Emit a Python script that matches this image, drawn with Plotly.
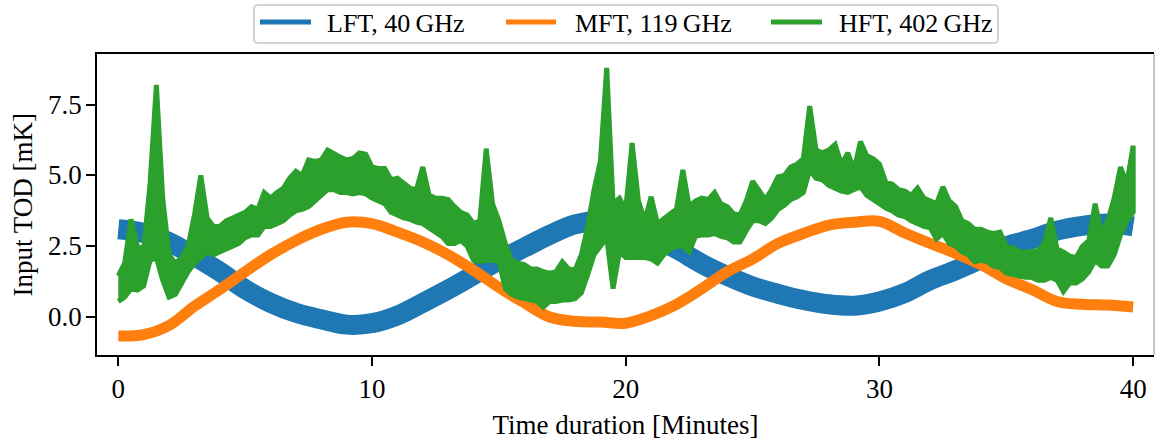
import numpy as np
import plotly.graph_objects as go

# ---------------------------------------------------------------- data
# Slowly varying channels, sampled once per minute (mK)
minutes = list(range(0, 41))
lft_mK = [3.1, 2.97, 2.65, 2.15, 1.6, 0.98, 0.5, 0.15, -0.08, -0.27,
          -0.22, 0.05, 0.5, 0.97, 1.48, 2.0, 2.45, 2.9, 3.27, 3.4,
          3.3, 2.85, 2.4, 1.88, 1.45, 1.08, 0.82, 0.6, 0.45, 0.4,
          0.55, 0.85, 1.3, 1.65, 2.05, 2.5, 2.75, 3.05, 3.22, 3.3, 3.2]
mft_mK = [-0.67, -0.62, -0.3, 0.38, 0.97, 1.6, 2.2, 2.7, 3.1, 3.35,
          3.3, 3.0, 2.65, 2.2, 1.65, 1.05, 0.5, 0.0, -0.15, -0.18,
          -0.22, 0.05, 0.45, 1.0, 1.6, 2.05, 2.6, 2.95, 3.25, 3.35,
          3.38, 2.97, 2.6, 2.25, 1.85, 1.35, 0.97, 0.55, 0.45, 0.42, 0.35]

# High-frequency channel: lower / upper envelope every 15 s (mK)
hft_minutes = np.arange(0, 40.001, 0.25)
hft_high = [1.45, 1.9, 3.45, 2.5, 2.4, 4.7, 8.2, 4.2, 2.2, 1.9,
            2.1, 2.5, 3.6, 5.0, 3.5, 3.2, 3.2, 3.4, 3.5, 3.6,
            3.7, 3.9, 3.8, 4.4, 4.2, 4.4, 4.55, 4.9, 5.15, 5.0,
            5.55, 5.5, 5.55, 5.9, 5.75, 5.65, 5.55, 5.6, 5.8, 5.75,
            5.3, 5.25, 5.25, 4.85, 4.9, 4.7, 4.55, 4.5, 5.3, 4.3,
            4.2, 4.2, 4.15, 3.9, 3.7, 3.6, 3.3, 3.4, 5.95, 4.0,
            3.4, 2.6, 2.0, 1.9, 1.85, 1.7, 1.7, 1.6, 1.55, 1.6,
            1.95, 1.7, 1.65, 2.2, 3.2, 4.5, 5.5, 8.8, 4.0, 4.2,
            3.8, 6.15, 4.1, 3.4, 4.25, 3.3, 3.5, 3.65, 3.8, 5.2,
            3.9, 4.1, 4.2, 4.15, 4.4, 4.0, 3.9, 3.65, 3.6, 4.1,
            4.8, 4.5, 4.15, 4.5, 4.95, 5.0, 5.3, 5.4, 5.6, 7.45,
            5.9, 5.8, 5.9, 6.1, 5.4, 5.8, 5.2, 6.2, 5.7, 5.6,
            5.4, 4.75, 4.7, 4.5, 4.45, 4.3, 4.55, 4.2, 4.1, 4.0,
            4.6, 4.1, 3.9, 3.4, 3.3, 3.1, 3.1, 3.0, 2.95, 3.0,
            2.5, 2.45, 2.3, 2.3, 2.3, 2.35, 2.6, 3.5, 2.4, 2.3,
            2.15, 2.1, 2.5, 2.7, 4.0, 2.95, 3.4, 4.2, 5.3, 4.7, 6.05]
hft_low = [0.55, 0.7, 1.0, 0.95, 1.1, 2.0, 2.1, 1.3, 0.7, 0.8,
           1.2, 1.6, 1.9, 2.1, 2.3, 2.2, 2.3, 2.4, 2.5, 2.6,
           2.8, 2.9, 2.9, 3.2, 3.2, 3.3, 3.4, 3.6, 3.75, 3.8,
           3.9, 4.1, 4.3, 4.5, 4.5, 4.4, 4.4, 4.35, 4.4, 4.35,
           4.2, 4.1, 4.0, 3.7, 3.6, 3.5, 3.45, 3.35, 3.3, 3.2,
           3.0, 2.85, 2.6, 2.6, 2.7, 2.5, 2.0, 1.95, 2.0, 2.0,
           2.0, 1.0, 0.8, 0.7, 0.65, 0.6, 0.55, 0.35, 0.55, 0.55,
           0.6, 0.6, 0.65, 0.85, 1.5, 2.2, 2.5, 2.8, 1.0, 2.3,
           2.1, 2.1, 2.1, 2.1, 2.05, 1.9, 2.2, 2.4, 2.5, 2.5,
           2.3, 2.85, 2.9, 2.9, 2.95, 2.85, 2.8, 2.65, 2.65, 3.05,
           3.4, 3.4, 3.3, 3.5, 3.8, 3.95, 4.15, 4.25, 4.4, 5.2,
           4.9, 4.85, 4.65, 4.55, 4.45, 4.4, 4.5, 4.6, 4.3, 4.15,
           4.0, 3.85, 3.75, 3.6, 3.55, 3.4, 3.3, 3.2, 3.15, 2.75,
           2.95, 2.6, 2.5, 2.3, 2.2, 1.95, 2.0, 1.95, 1.8, 1.75,
           1.55, 1.5, 1.45, 1.4, 1.4, 1.3, 1.3, 1.4, 1.3, 0.9,
           1.2, 1.2, 1.35, 1.6, 2.0, 1.8, 1.8, 2.2, 2.9, 3.4, 3.7]

x_ticks = [0, 10, 20, 30, 40]
y_ticks = [0.0, 2.5, 5.0, 7.5]
y_tick_text = ["0.0", "2.5", "5.0", "7.5"]

series_labels = ["LFT, 40\u2009GHz", "MFT, 119\u2009GHz", "HFT, 402\u2009GHz"]
colors = ["#1f77b4", "#ff7f0e", "#2ca02c"]

# ---------------------------------------------------------------- figure
FONT = "Liberation Serif"
W, H = 1155, 441
ML, MR, MT, MB = 97, 1, 54, 86
plot_w = W - ML - MR
plot_h = H - MT - MB

fig = go.Figure()

fig.add_trace(go.Scatter(
    x=minutes, y=lft_mK, mode="lines", name=series_labels[0],
    line=dict(color=colors[0], width=20, shape="spline", smoothing=1.0),
    showlegend=False, hoverinfo="skip"))

fig.add_trace(go.Scatter(
    x=minutes, y=mft_mK, mode="lines", name=series_labels[1],
    line=dict(color=colors[1], width=11, shape="spline", smoothing=1.0),
    showlegend=False, hoverinfo="skip"))

t_hft = list(hft_minutes)
fig.add_trace(go.Scatter(
    x=t_hft + t_hft[::-1], y=hft_high + hft_low[::-1],
    mode="lines", name=series_labels[2], fill="toself",
    fillcolor=colors[2], line=dict(color=colors[2], width=5),
    showlegend=False, hoverinfo="skip"))

axis_common = dict(
    showgrid=False, zeroline=False, showline=True, linecolor="black",
    linewidth=2, ticks="outside", ticklen=9, tickwidth=2,
    tickcolor="black", tickfont=dict(family=FONT, size=27, color="black"),
)

fig.update_xaxes(
    range=[-0.84, 40.82], tickvals=x_ticks, mirror=True,
    title=dict(text="Time duration [Minutes]",
               font=dict(family=FONT, size=27, color="black"), standoff=12),
    **axis_common)
fig.update_yaxes(
    range=[-1.343, 9.293], tickvals=y_ticks, showticklabels=False,
    **axis_common)


def px_x(px):
    return (px - ML) / plot_w


def px_y(py):
    return (H - MB - py) / plot_h


shapes = []
# right frame edge
shapes.append(dict(type="line", xref="paper", yref="paper",
                   x0=1, x1=1, y0=0, y1=1,
                   line=dict(color="#b4b4b4", width=1.5)))

# legend frame with rounded corners
x0, x1, y0, y1, r = 254, 998, 5, 43, 4
rx = r / plot_w
ry = r / plot_h
X0, X1, Y0, Y1 = px_x(x0), px_x(x1), px_y(y1), px_y(y0)
path = (f"M {X0 + rx},{Y0} L {X1 - rx},{Y0} Q {X1},{Y0} {X1},{Y0 + ry} "
        f"L {X1},{Y1 - ry} Q {X1},{Y1} {X1 - rx},{Y1} "
        f"L {X0 + rx},{Y1} Q {X0},{Y1} {X0},{Y1 - ry} "
        f"L {X0},{Y0 + ry} Q {X0},{Y0} {X0 + rx},{Y0} Z")
shapes.append(dict(type="path", xref="paper", yref="paper", path=path,
                   line=dict(color="#d3d3d3", width=2),
                   fillcolor="rgba(255,255,255,0.8)", layer="above"))

handle_x = [(260, 311), (506, 556), (771, 822)]
text_x = [325, 573, 837]
annotations = []
for (hx0, hx1), tx, lab, col in zip(handle_x, text_x, series_labels, colors):
    shapes.append(dict(type="line", xref="paper", yref="paper",
                       x0=px_x(hx0), x1=px_x(hx1),
                       y0=px_y(22), y1=px_y(22),
                       line=dict(color=col, width=5)))
    annotations.append(dict(
        x=px_x(tx), y=px_y(23.5), xref="paper", yref="paper",
        text=lab, showarrow=False, xanchor="left", yanchor="middle",
        font=dict(family=FONT, size=26, color="black")))

# y tick labels, right-aligned next to the tick marks
for val, lab in zip(y_ticks, y_tick_text):
    annotations.append(dict(
        x=px_x(84), y=val, xref="paper", yref="y",
        text=lab, showarrow=False, xanchor="right", yanchor="middle",
        font=dict(family=FONT, size=27, color="black")))

# y-axis title
annotations.append(dict(
    x=px_x(22), y=0.5, xref="paper", yref="paper",
    text="Input TOD [mK]", textangle=-90, showarrow=False,
    xanchor="center", yanchor="middle",
    font=dict(family=FONT, size=27, color="black")))

fig.update_layout(
    width=W, height=H,
    margin=dict(l=ML, r=MR, t=MT, b=MB),
    paper_bgcolor="white", plot_bgcolor="white",
    showlegend=False,
    shapes=shapes, annotations=annotations,
)

fig.write_html("out.html")
